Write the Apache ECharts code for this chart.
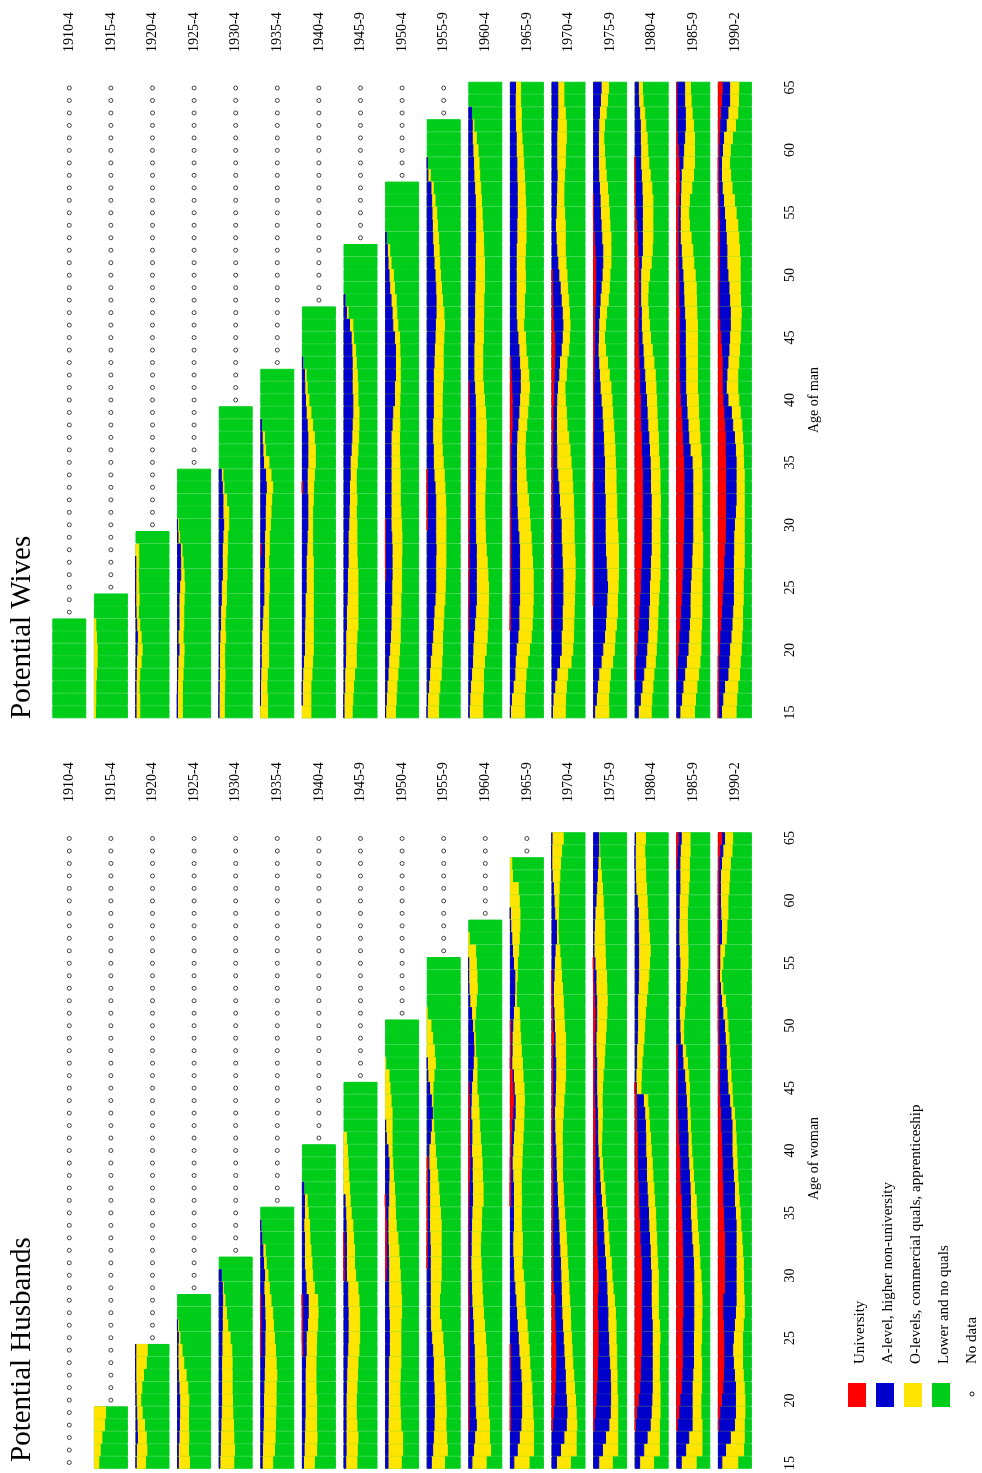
<!DOCTYPE html>
<html><head><meta charset="utf-8">
<script src="https://cdn.jsdelivr.net/npm/echarts@6/dist/echarts.min.js"></script>
<style>html,body{margin:0;padding:0;background:#fff}#c{width:982px;height:1473px}</style>
</head><body><div id="c"></div>
<script>
const ages = ['15','16','17','18','19','20','21','22','23','24','25','26','27','28','29','30','31','32','33','34','35','36','37','38','39','40','41','42','43','44','45','46','47','48','49','50','51','52','53','54','55','56','57','58','59','60','61','62','63','64','65'];
const cohorts = ['1910-4','1915-4','1920-4','1925-4','1930-4','1935-4','1940-4','1945-9','1950-4','1955-9','1960-4','1965-9','1970-4','1975-9','1980-4','1985-9','1990-2'];

// uni = University; alev = University + A-level; olev = University + A-level + O-levels. Rest = Lower and no quals.

// ---------- Potential Wives (by age of man) ----------
const wivesUni = [
 [0,0,0,0,0,0,0,0],
 [0,0,0,0,0,0,0,0,0,0],
 [0,0,0,0,0,0,0,0,0,0,0,0,0,0,0],
 [0,0,0,0,0,0,0,0,0,0,0,0,0,0,0,0,0,0,0,0],
 [0,0,0,0,0,0,0,0,0,0,0,0,0,0,0,0,0,0,0,0,0,0,0,0,0],
 [0,0,0,0,0,0,0,0,0,0,0,0,0,2,0,0,0,0,0,0,0,0,0,0,0,0,0,0],
 [0,0,0,0,0,0,0,0,0,0,0,0,0,0,0,0,0,0,2,0,0,0,0,0,0,0,0,0,0,0,0,0,0],
 [0,0,0,0,0,0,0,0,0,0,0,0,0,0,0,0,0,0,0,0,0,0,0,0,0,0,0,0,0,0,0,0,0,0,0,0,0,0],
 [0,0,0,0,0,0,0,0,0,0,0,3,2,2,2,2,0,0,0,0,0,0,0,0,0,0,0,0,0,0,0,0,0,0,0,0,0,0,0,0,0,0,0],
 [0,0,0,0,0,0,0,0,0,0,0,0,0,0,0,3,2,2,2,2,0,0,0,0,0,0,0,0,0,0,0,0,0,0,0,0,0,0,0,0,0,0,0,0,0,0,0,0],
 [0,0,0,0,0,0,0,1,1,2,2,3,3,3,3,4,4,4,4,4,4,4,4,4,4,3,2,0,0,0,0,0,0,0,0,0,0,0,0,0,0,0,0,0,0,0,0,0,0,0,0],
 [0,0,0,0,0,0,0,1,2,2,3,3,4,4,4,4,3,3,3,4,4,4,6,8,8,8,7,5,3,0,0,0,0,0,0,0,0,0,0,0,0,0,0,0,0,0,0,0,0,0,0],
 [0,0,0,0,0,0,0,1,2,2,2,3,3,3,3,3,3,3,3,3,3,4,4,6,6,8,8,9,10,11,10,8,6,5,4,3,0,0,0,0,0,0,0,0,0,0,0,0,0,0,0],
 [0,0,0,0,0,0,0,0,0,1,1,1,1,1,1,1,1,1,1,2,2,2,2,3,3,3,3,4,4,5,5,6,6,8,9,9,9,7,5,3,2,2,0,0,0,0,0,0,0,0,0],
 [0,0,0,2,4,7,9,12,14,16,18,19,21,22,23,23,24,24,24,24,23,21,21,19,18,18,16,16,14,13,12,12,13,13,13,13,13,11,9,7,5,3,2,1,1,0,0,0,0,0,0],
 [0,0,0,2,4,7,9,12,14,16,18,19,21,21,23,23,24,24,24,24,23,21,19,18,16,13,12,10,10,10,10,10,10,9,9,8,7,7,7,7,7,9,10,10,9,7,4,2,2,2,2],
 [1,1,1,2,2,5,7,10,12,14,16,18,19,21,23,24,24,24,24,24,24,23,23,21,19,16,14,14,14,12,10,7,4,4,4,5,5,5,5,5,4,3,2,2,2,4,5,7,9,12,14]
];
const wivesAlev = [
 [0,0,0,0,0,0,0,0],
 [0,0,0,0,0,0,0,0,0,0],
 [2,2,2,3,4,6,7,5,2,1,1,1,1,0,0],
 [1,1,2,3,4,7,4,7,7,7,9,12,12,11,4,2,0,0,0,0],
 [1,1,2,3,4,4,5,7,7,9,9,12,12,12,14,16,14,14,12,9,0,0,0,0,0],
 [0,1,1,2,4,4,4,7,9,12,12,12,14,14,14,16,16,17,19,17,11,9,7,5,0,0,0,0],
 [0,2,2,4,6,9,9,10,11,11,14,14,14,16,17,19,19,19,17,17,19,19,19,17,14,12,10,9,4,0,0,0,0],
 [2,2,5,5,7,8,8,10,10,12,13,13,15,15,15,17,18,19,19,21,21,24,26,27,29,29,27,27,27,26,24,19,10,6,0,0,0,0],
 [3,5,7,10,12,15,17,19,19,21,21,22,22,22,21,19,19,19,19,19,19,19,19,22,24,29,29,32,32,32,29,24,22,19,15,13,10,8,5,0,0,0,0],
 [2,4,7,10,12,16,19,21,23,26,28,28,28,29,28,28,28,28,26,23,21,21,19,19,21,21,21,21,23,24,26,27,29,29,28,26,23,21,19,18,17,16,14,5,3,0,0,0],
 [4,6,8,11,14,15,17,20,23,25,25,25,25,25,23,23,22,22,22,23,23,23,23,23,23,22,20,18,18,18,19,19,20,20,21,22,22,22,23,23,23,22,20,18,17,15,13,13,11,0,0],
 [3,6,11,16,17,20,25,28,28,30,30,30,30,30,28,25,23,22,21,21,21,21,22,25,28,30,32,32,30,28,25,22,20,20,20,20,20,20,22,22,23,23,23,22,22,20,20,18,17,17,18],
 [4,6,11,17,25,30,30,33,33,35,35,35,33,32,30,30,27,25,23,20,17,17,16,16,16,17,19,23,25,30,33,35,33,30,27,23,20,17,15,13,15,16,17,18,17,17,17,18,20,20,20],
 [6,11,14,18,25,30,35,38,40,42,44,42,40,38,37,37,37,37,35,35,35,33,32,30,28,25,22,20,18,16,17,18,20,22,25,28,30,30,27,25,23,22,20,18,17,17,17,18,20,23,25],
 [12,18,23,28,34,37,40,42,43,45,45,47,48,50,50,50,50,50,48,48,47,45,43,40,38,36,33,31,28,26,23,21,21,19,19,19,21,24,24,24,24,24,23,21,19,19,18,18,16,13,12],
 [12,17,21,26,31,36,38,40,42,42,43,45,47,48,50,50,50,50,50,50,48,42,38,36,33,31,29,29,29,28,28,28,26,24,23,21,18,16,13,13,13,14,15,16,21,23,26,28,28,26,26],
 [12,16,21,31,34,36,40,43,45,47,47,47,47,48,48,50,53,55,55,55,55,53,50,45,41,31,26,28,31,34,36,38,38,36,34,31,28,28,26,24,21,18,14,12,12,15,18,26,31,36,36]
];
const wivesOlev = [
 [0,0,0,0,0,0,0,0],
 [6,7,7,9,11,11,9,7,0,0],
 [14,14,12,14,18,21,18,14,10,12,11,10,11,11,0],
 [17,17,17,19,21,22,19,21,21,22,24,22,19,16,9,5,0,0,0,0],
 [18,18,19,20,19,19,22,20,22,24,24,26,26,27,28,31,31,25,17,14,0,0,0,0,0],
 [23,23,21,22,26,26,26,26,26,26,28,28,26,28,28,31,33,35,38,33,27,17,14,5,0,0,0,0],
 [28,28,28,31,33,35,35,35,35,35,35,35,35,33,33,33,33,35,36,38,41,41,38,33,28,22,17,14,4,0,0,0,0],
 [27,29,31,34,39,39,41,44,44,44,44,44,42,41,41,41,39,41,39,39,42,44,46,47,47,44,44,42,39,37,31,29,15,6,0,0,0,0],
 [32,34,36,39,42,44,46,46,48,48,50,50,50,51,51,50,48,46,46,46,45,44,44,45,44,45,46,46,46,45,44,39,36,34,29,26,19,15,5,0,0,0,0],
 [36,37,40,44,46,48,48,50,52,55,56,57,58,58,58,58,58,57,55,53,50,47,46,46,47,47,48,50,50,50,52,54,52,48,45,42,40,38,36,33,31,26,21,12,3,0,0,0],
 [44,44,46,46,49,54,57,59,60,61,61,59,57,54,52,51,50,50,51,52,54,54,54,54,52,49,46,44,44,44,46,46,47,47,49,49,49,47,46,44,42,40,38,35,33,30,25,18,11,0,0],
 [45,45,47,49,54,59,64,67,69,70,70,70,68,66,64,61,59,56,52,49,47,46,47,51,54,57,59,57,54,49,47,42,44,44,47,47,46,47,49,49,49,47,46,44,42,40,37,35,35,33,33],
 [42,43,45,49,59,64,66,67,68,69,70,71,71,70,68,68,67,66,64,62,59,56,52,47,45,42,41,45,47,52,54,56,54,52,49,47,44,42,42,42,40,38,38,40,42,43,45,45,42,38,38],
 [48,47,49,52,59,64,66,70,73,73,75,76,76,76,75,73,71,71,69,69,67,66,64,62,59,57,54,49,44,38,35,38,41,46,49,51,54,54,54,51,49,47,44,40,37,35,33,35,40,44,47],
 [50,52,55,58,62,65,67,69,70,72,74,76,76,76,76,76,77,77,76,76,74,72,71,69,67,66,64,62,58,53,48,45,42,40,41,45,50,53,55,55,55,55,52,47,43,40,38,34,31,26,24],
 [55,58,62,67,71,74,74,76,77,77,77,77,79,79,79,77,77,77,77,77,76,74,71,69,67,66,64,64,64,64,64,64,62,61,60,57,53,50,45,40,38,40,47,52,55,55,55,52,48,45,43],
 [55,57,60,65,67,70,72,74,74,76,76,77,79,79,79,79,79,79,79,79,77,76,74,72,67,63,60,60,63,65,67,69,70,68,67,67,67,65,63,60,55,50,43,39,36,38,44,53,60,62,63]
];

// ---------- Potential Husbands (by age of woman) ----------
const husbandsUni = [
 [],
 [0,0,0,0,0],
 [0,0,0,0,0,0,0,0,0,0],
 [0,0,0,0,0,0,0,0,0,0,0,0,0,0],
 [0,0,0,0,0,0,0,0,0,0,0,0,0,0,0,0,0],
 [0,0,0,0,0,0,0,0,0,1,1,2,1,1,0,0,0,0,0,0,0],
 [0,0,0,0,0,0,0,0,0,3,2,2,2,1,0,0,0,0,0,0,0,0,0,0,0,0],
 [0,0,0,0,0,0,0,0,0,0,0,0,0,0,0,3,2,2,1,0,0,0,0,0,0,0,0,0,0,0,0],
 [0,0,0,0,0,0,0,0,0,0,0,0,0,0,0,4,5,5,5,5,3,1,0,0,0,0,0,0,0,0,0,0,0,0,0,0],
 [0,0,0,0,0,0,0,0,0,0,0,0,0,0,0,0,2,2,3,3,3,3,3,4,5,0,0,0,0,0,0,0,0,0,0,0,0,0,0,0,0],
 [0,0,0,2,2,2,2,2,2,2,2,2,2,2,1,1,1,1,1,1,1,2,3,5,6,6,5,5,4,4,2,0,0,0,0,0,0,0,0,0,0,0,0,0],
 [0,0,0,2,2,2,2,2,2,2,0,0,0,0,0,0,0,0,0,0,0,1,1,2,2,4,5,7,10,12,10,8,2,3,4,3,0,0,0,0,0,0,0,0,0,0,0,0,0],
 [0,0,0,4,7,10,12,13,14,14,13,12,10,10,7,5,5,5,4,4,4,4,4,4,3,3,2,2,3,4,5,5,5,5,7,4,3,2,1,1,0,0,0,0,0,0,0,0,0,0,0],
 [0,0,0,4,7,10,12,14,14,16,16,16,14,14,16,16,14,13,12,11,10,9,7,7,7,7,7,7,7,5,4,4,5,4,5,7,7,5,4,2,1,0,0,0,0,0,0,0,0,0,0],
 [0,0,0,4,7,12,16,18,19,21,21,21,21,21,22,22,21,19,17,16,14,13,12,10,9,9,9,7,7,6,1,0,0,0,0,0,0,0,0,0,0,0,0,0,0,0,0,0,0,0,0],
 [0,0,0,4,9,12,16,18,19,19,19,19,21,21,21,21,21,20,19,18,17,16,13,12,12,10,8,7,5,4,4,4,4,4,0,0,0,0,0,0,0,0,0,0,0,0,0,0,2,4,7],
 [0,0,0,3,7,12,16,18,19,19,19,18,16,16,21,21,21,21,21,19,18,16,16,14,14,13,12,10,9,7,5,5,5,5,3,2,2,2,2,2,2,2,2,2,2,2,2,2,4,7,12]
];
const husbandsAlev = [
 [],
 [0,0,0,0,0],
 [3,4,7,6,5,3,2,1,1,1],
 [5,5,7,8,9,9,7,5,4,4,5,2,0,0],
 [5,6,7,8,9,10,10,10,10,11,11,12,12,13,12,9,0],
 [7,8,9,10,11,11,12,13,14,15,15,16,15,14,12,14,11,9,6,3,0],
 [6,8,9,10,11,11,11,11,12,14,14,18,20,20,14,11,9,9,9,7,9,9,7,0,0,0],
 [8,9,9,9,9,9,10,11,12,14,15,15,15,14,14,10,10,10,10,9,8,6,0,0,0,0,0,0,0,0,0],
 [10,10,10,10,11,11,11,11,12,14,14,14,13,12,12,12,12,11,10,10,10,12,12,13,13,10,5,3,0,0,0,0,0,0,0,0],
 [15,19,21,23,24,24,23,21,21,19,16,13,12,12,12,12,12,12,11,10,10,10,10,10,8,8,12,15,18,15,10,5,3,0,0,0,0,0,0,0,0],
 [12,17,20,25,23,21,21,20,20,19,17,16,14,12,11,10,9,10,10,11,12,14,14,13,13,11,12,12,9,10,11,14,16,18,17,14,11,6,3,2,2,0,0,0],
 [13,23,29,34,36,36,36,34,31,28,26,23,21,19,16,13,12,10,10,12,12,12,12,10,8,10,12,14,17,17,14,12,7,8,8,10,12,15,16,16,12,9,7,4,2,0,0,0,0],
 [16,28,38,45,47,45,43,42,40,38,36,34,32,31,30,29,28,26,24,23,21,19,18,16,15,14,12,11,10,12,13,14,14,12,12,10,9,7,7,9,10,12,16,16,11,9,7,3,1,1,2],
 [18,29,38,48,52,53,53,52,50,48,47,45,45,43,42,40,38,35,33,31,29,26,23,21,19,16,15,15,14,13,12,12,12,10,10,12,12,12,10,10,7,4,4,5,7,10,12,14,16,18,18],
 [16,28,38,47,50,52,53,53,53,53,53,53,51,50,50,50,48,47,45,43,42,40,38,36,36,34,34,33,31,27,6,5,7,7,9,10,10,10,12,13,13,13,13,12,12,9,5,4,2,2,4],
 [16,29,38,48,48,48,48,50,52,52,52,53,53,53,53,53,52,50,47,45,43,43,42,40,38,36,36,34,33,31,29,26,21,19,13,12,10,12,12,12,12,10,9,9,10,10,12,12,12,13,16],
 [13,24,38,50,53,53,53,50,47,45,47,50,53,55,55,55,55,55,55,55,53,50,50,47,45,43,43,43,40,36,31,29,26,26,23,21,16,12,9,6,7,7,12,12,10,9,9,9,12,16,21]
];
const husbandsOlev = [
 [],
 [16,20,25,33,36],
 [31,35,33,28,21,17,20,25,33,36],
 [38,35,36,35,35,36,33,28,21,16,10,5,0,0],
 [46,48,46,45,43,42,41,41,41,40,35,28,24,20,15,9,0],
 [38,43,45,46,47,48,48,50,48,46,43,40,38,33,28,24,19,16,6,3,0],
 [38,45,46,45,45,45,43,43,43,44,45,48,49,48,38,33,31,28,25,24,20,17,7,0,0,0],
 [41,42,44,41,39,39,41,43,44,47,49,49,49,47,44,37,34,34,31,29,24,21,19,17,15,13,10,0,0,0,0],
 [49,53,53,48,46,45,45,46,48,48,48,48,50,50,48,46,44,42,39,34,32,31,29,26,24,22,22,22,22,19,16,13,3,0,0,0],
 [54,62,60,58,59,58,57,55,54,51,49,44,39,39,42,44,44,44,44,44,42,39,37,34,30,27,25,22,20,20,20,23,27,24,19,14,2,0,0,0,0],
 [54,67,64,64,61,59,59,57,57,54,52,49,46,44,42,41,39,37,38,40,41,45,45,43,42,40,37,35,33,31,27,27,27,23,22,20,23,25,28,27,25,23,4,0],
 [58,71,71,71,69,67,66,63,60,58,55,52,48,45,45,41,37,38,38,36,35,36,35,35,37,38,40,42,43,44,43,40,38,35,33,31,29,21,21,23,24,27,29,31,31,29,26,9,7],
 [57,74,74,76,74,72,69,67,64,62,60,58,57,55,53,51,49,47,45,43,40,38,36,34,34,34,33,34,36,38,41,43,43,43,43,40,38,36,34,31,29,26,22,21,22,23,24,26,28,31,36],
 [58,74,74,74,74,74,72,72,71,71,69,69,67,64,60,57,55,50,48,45,42,38,36,31,29,26,27,28,29,28,29,31,34,36,38,40,42,43,42,41,38,37,36,36,33,31,29,26,23,21,20],
 [57,74,74,74,76,76,76,74,74,74,76,74,71,71,71,71,69,67,66,64,63,60,58,55,53,50,48,45,43,40,20,21,23,26,29,31,33,36,40,43,45,47,45,43,40,38,36,34,33,31,33],
 [60,77,77,77,74,74,76,76,76,74,76,76,77,77,76,74,71,69,67,64,62,60,55,52,50,47,45,43,42,40,40,38,34,29,23,23,26,29,31,34,36,36,35,34,34,36,38,40,40,42,42],
 [60,77,79,79,81,81,79,76,74,74,74,76,79,79,77,77,76,74,72,69,67,64,62,60,58,57,55,53,50,45,43,40,38,36,34,31,28,24,16,12,16,21,26,28,31,31,34,36,38,43,45]
];

const RED = '#ff0000', BLUE = '#0000cd', YELLOW = '#ffe500', GREEN = '#00cd1a';
const FONT = '"Liberation Serif", "Times New Roman", serif';
const X0 = 69.3, STEP = 41.6, SW = 34.0, PH = 637.5;

const panels = [
  {top: 81.25, labelTop: 60, uni: wivesUni, alev: wivesAlev, olev: wivesOlev, axisName: 'Age of man', namePad: [0, 0, 0, 0]},
  {top: 831.75, labelTop: 810, uni: husbandsUni, alev: husbandsAlev, olev: husbandsOlev, axisName: 'Age of woman', namePad: [0, 16, 0, 0]}
];

const grid = [], xAxis = [], yAxis = [], series = [];
function bar(name, gi, data, color) {
  return {type: 'bar', name: name, xAxisIndex: gi, yAxisIndex: gi, data: data,
    itemStyle: {color: color, borderColor: color, borderWidth: 1},
    barCategoryGap: '0%', barGap: '-100%', silent: true, animation: false};
}
panels.forEach(function (p) {
  cohorts.forEach(function (c, k) {
    const gi = grid.length;
    grid.push({left: X0 + STEP * k - SW / 2, top: p.top + 0.5, width: SW, height: PH - 1});
    xAxis.push({gridIndex: gi, type: 'value', min: 0, max: 100, show: false});
    yAxis.push({gridIndex: gi, type: 'category', data: ages, show: false});
    const n = p.olev[k].length;
    // a zero share has no bar at all (avoids a hairline border)
    const pick = function (arr) { return ages.map(function (a, i) { return (i < n && arr[i] > 0) ? arr[i] : null; }); };
    const total = ages.map(function (a, i) { return i < n ? 100 : null; });
    series.push(bar('Lower and no quals', gi, total, GREEN));
    series.push(bar('O-levels, commercial quals, apprenticeship', gi, pick(p.olev[k]), YELLOW));
    series.push(bar('A-level, higher non-university', gi, pick(p.alev[k]), BLUE));
    series.push(bar('University', gi, pick(p.uni[k]), RED));
    const noData = [];
    ages.forEach(function (a, i) { if (i >= n) noData.push([50, i]); });
    series.push({type: 'scatter', name: 'No data', xAxisIndex: gi, yAxisIndex: gi, data: noData,
      symbol: 'circle', symbolSize: 4, silent: true, animation: false,
      itemStyle: {color: '#ffffff', borderColor: '#000000', borderWidth: 0.9}});
  });
  // cohort labels
  let gi = grid.length;
  grid.push({left: X0 - STEP / 2, width: STEP * cohorts.length, top: p.labelTop, height: 1});
  xAxis.push({gridIndex: gi, type: 'category', data: cohorts, position: 'top',
    axisLine: {show: false}, axisTick: {show: false}, splitLine: {show: false},
    axisLabel: {rotate: 90, margin: 8, interval: 0, fontFamily: FONT, fontSize: 14, color: '#000'}});
  yAxis.push({gridIndex: gi, type: 'value', show: false});
  // age axis
  gi = grid.length;
  grid.push({left: 740, width: 40, top: p.top, height: PH});
  xAxis.push({gridIndex: gi, type: 'value', show: false});
  yAxis.push({gridIndex: gi, type: 'category', data: ages, position: 'right',
    axisLine: {show: false}, axisTick: {show: false}, splitLine: {show: false},
    axisLabel: {interval: 4, rotate: 90, margin: 3, fontFamily: FONT, fontSize: 14, color: '#000'},
    name: p.axisName, nameLocation: 'middle', nameRotate: 90, nameGap: 27,
    nameTextStyle: {fontFamily: FONT, fontSize: 14, color: '#000', padding: p.namePad}});
});

function vtext(x, y, text, size) {
  return {type: 'text', x: x, y: y, rotation: Math.PI / 2, silent: true,
    style: {text: text, fontFamily: FONT, fontSize: size, fill: '#000',
      align: 'left', verticalAlign: 'middle', textAlign: 'left', textVerticalAlign: 'middle'}};
}
const graphic = [
  vtext(22, 719, 'Potential Wives', 29),
  vtext(22, 1462, 'Potential Husbands', 29),
  {type: 'rect', shape: {x: 848, y: 1383, width: 18, height: 24}, style: {fill: RED}, silent: true},
  {type: 'rect', shape: {x: 876, y: 1383, width: 18, height: 24}, style: {fill: BLUE}, silent: true},
  {type: 'rect', shape: {x: 904, y: 1383, width: 18, height: 24}, style: {fill: YELLOW}, silent: true},
  {type: 'rect', shape: {x: 932, y: 1383, width: 18, height: 24}, style: {fill: GREEN}, silent: true},
  {type: 'circle', shape: {cx: 972, cy: 1394, r: 2}, style: {fill: '#fff', stroke: '#000', lineWidth: 0.9}, silent: true},
  vtext(860, 1364, 'University', 15),
  vtext(888, 1364, 'A-level, higher non-university', 15),
  vtext(916, 1364, 'O-levels, commercial quals, apprenticeship', 15),
  vtext(944, 1364, 'Lower and no quals', 15),
  vtext(972, 1364, 'No data', 15)
];

const chart = echarts.init(document.getElementById('c'), null, {renderer: 'canvas'});
chart.setOption({animation: false, backgroundColor: '#ffffff', grid: grid, xAxis: xAxis, yAxis: yAxis, series: series, graphic: graphic});
</script>
</body></html>
